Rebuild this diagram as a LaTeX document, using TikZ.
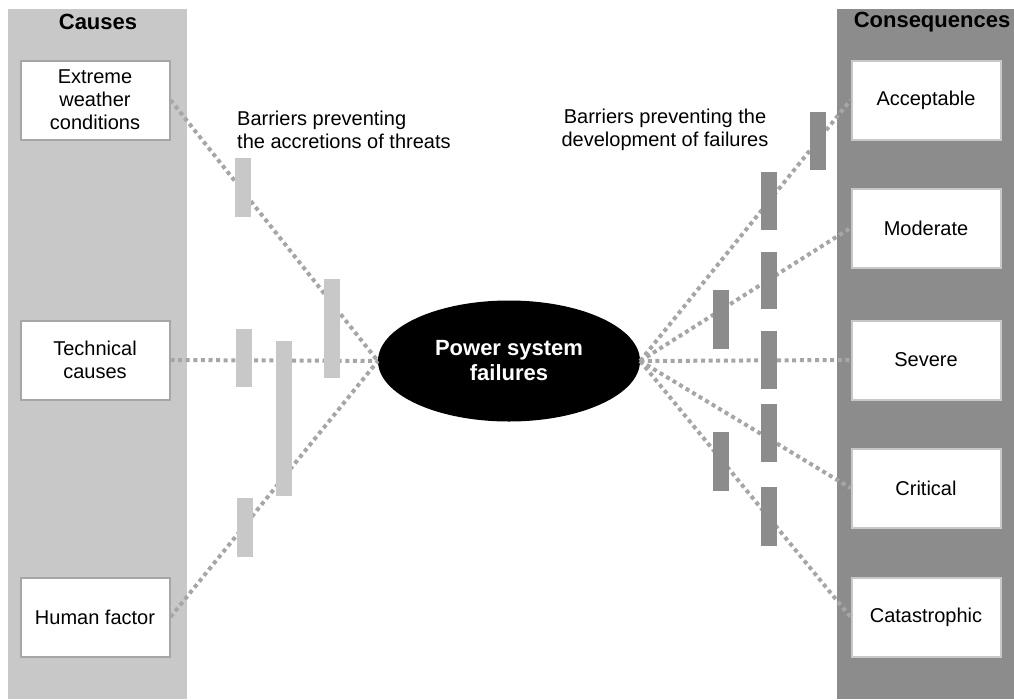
\documentclass[tikz,border=0pt]{standalone}
\usepackage{fontspec}
\setmainfont{Liberation Sans}
\usetikzlibrary{shapes.geometric}
\definecolor{lightbar}{HTML}{C8C8C8}
\definecolor{darkbar}{HTML}{8C8C8C}
\definecolor{dotgray}{HTML}{A6A6A6}

\begin{document}
\begin{tikzpicture}[x=1pt,y=-1pt]

\tikzset{causebox/.style={draw=dotgray, line width=2pt, fill=white, inner sep=0pt,
    minimum width=149pt, minimum height=79pt, align=center,
    font=\fontsize{20}{23}\selectfont},
  effectbox/.style={causebox, draw=lightbar},
  heading/.style={font=\fontsize{22}{25}\selectfont\bfseries},
  linkline/.style={dotgray, line width=4pt, dash pattern=on 4pt off 3.6pt},
  barrier/.style={inner sep=0pt, minimum width=16pt}}

    % Page and side bands
    \useasboundingbox (0,0) rectangle (1014,699);
    \fill[lightbar] (8,9) rectangle (187,699);
    \fill[darkbar] (837,9) rectangle (1014,699);
    \node[heading] (causes) at (98,22) {Causes};
    \node[heading] (conseq) at (932,22) {Consequences};

    % Causes
    \node[causebox] (weather) at (95,100) {Extreme\\weather\\conditions};
    \node[causebox] (tech) at (95,360) {Technical\\causes};
    \node[causebox] (human) at (95,617) {Human factor};

    % Consequences
    \node[effectbox] (accept) at (926,100) {Acceptable};
    \node[effectbox] (moder) at (926,228) {Moderate};
    \node[effectbox] (severe) at (926,360) {Severe};
    \node[effectbox] (crit) at (926,488) {Critical};
    \node[effectbox] (catas) at (926,617) {Catastrophic};

    % Top event
    \node[ellipse, fill=black, inner sep=0pt, minimum width=262pt,
    minimum height=121pt, text=white, align=center,
    font=\fontsize{22}{25}\selectfont\bfseries] (psf) at (509,361)
    {Power system\\failures};

    % Threat lines
    \draw[linkline] (weather.east) -- (psf.west);
    \draw[linkline] (tech.east) -- (psf.west);
    \draw[linkline] (human.east) -- (psf.west);

    % Consequence lines
    \draw[linkline] (psf.east) -- (accept.west);
    \draw[linkline] (psf.east) -- (moder.west);
    \draw[linkline] (psf.east) -- (severe.west);
    \draw[linkline] (psf.east) -- (crit.west);
    \draw[linkline] (psf.east) -- (catas.west);

    % Left barriers
    \node[barrier, fill=lightbar, minimum height=59pt] (lb1) at (243,187.5) {};
    \node[barrier, fill=lightbar, minimum height=99pt] (lb2) at (332,328.5) {};
    \node[barrier, fill=lightbar, minimum height=58pt] (lb3) at (244,358) {};
    \node[barrier, fill=lightbar, minimum height=155pt] (lb4) at (284,418.5) {};
    \node[barrier, fill=lightbar, minimum height=59pt] (lb5) at (245,527.5) {};

    % Right barriers
    \node[barrier, fill=darkbar, minimum height=58pt] (rb1) at (818,141) {};
    \node[barrier, fill=darkbar, minimum height=58pt] (rb2) at (769,201) {};
    \node[barrier, fill=darkbar, minimum height=57pt] (rb3) at (769,280.5) {};
    \node[barrier, fill=darkbar, minimum height=59pt] (rb4) at (720.5,319.5) {};
    \node[barrier, fill=darkbar, minimum height=58pt] (rb5) at (769,360) {};
    \node[barrier, fill=darkbar, minimum height=58pt] (rb6) at (769,433) {};
    \node[barrier, fill=darkbar, minimum height=59pt] (rb7) at (720.5,461.5) {};
    \node[barrier, fill=darkbar, minimum height=59pt] (rb8) at (769,516.5) {};

    % Barrier captions
    \node[anchor=west, align=left, inner sep=0pt, font=\fontsize{20}{23}\selectfont]
    (lcap) at (237,130) {Barriers preventing\\the accretions of threats};
    \node[align=center, inner sep=0pt, font=\fontsize{20}{23}\selectfont]
    (rcap) at (665,130) {Barriers preventing the\\development of failures};

\end{tikzpicture}
\end{document}
